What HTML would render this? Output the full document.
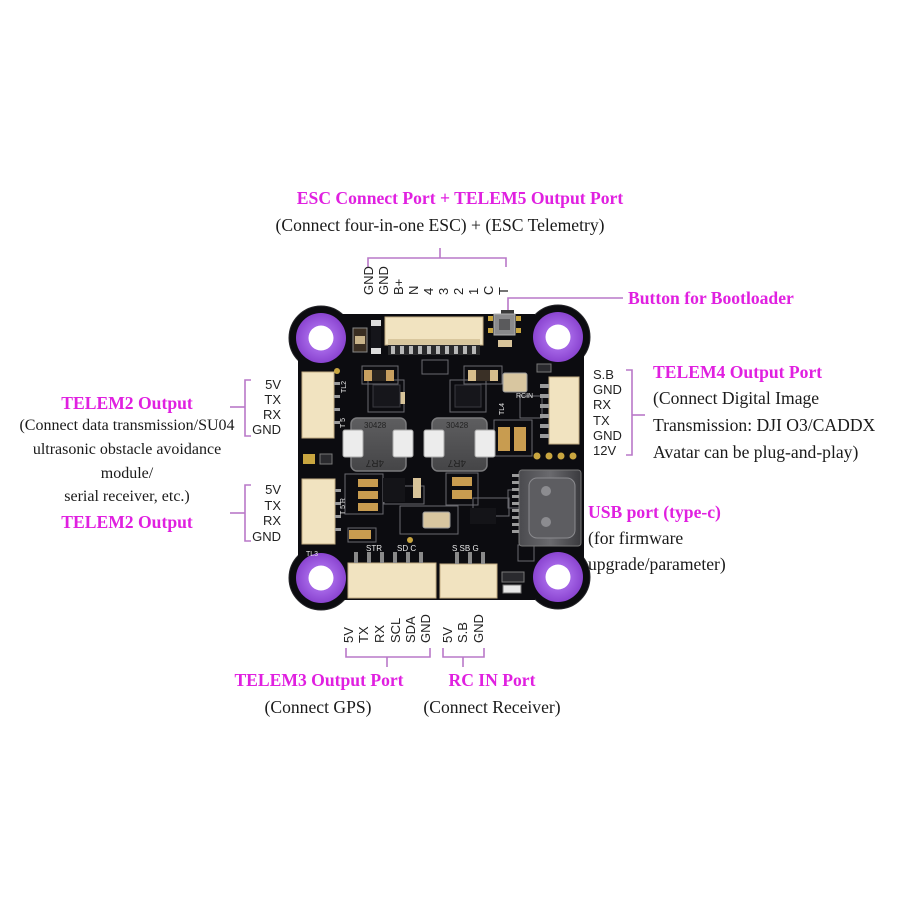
<!DOCTYPE html>
<html><head><meta charset="utf-8">
<style>
html,body{margin:0;padding:0;background:#fff;}
#w{position:relative;width:900px;height:900px;overflow:hidden;background:#fff;}
.t{position:absolute;white-space:nowrap;font-family:"Liberation Serif",serif;color:#1a1a1a;font-size:17.6px;line-height:20px;}
.m{color:#e020e0;font-weight:bold;}
.c{text-align:center;}
.p{position:absolute;white-space:pre;font-family:"Liberation Sans",sans-serif;font-size:13px;color:#222;}
svg{position:absolute;left:0;top:0;}
</style></head><body><div id="w">

<svg width="900" height="900" viewBox="0 0 900 900">
<defs>
<radialGradient id="pg" cx="50%" cy="50%" r="50%">
<stop offset="55%" stop-color="#a262e4"/><stop offset="100%" stop-color="#8a44d0"/>
</radialGradient>
<linearGradient id="ind" x1="0" y1="0" x2="0" y2="1">
<stop offset="0" stop-color="#5e5e60"/><stop offset="1" stop-color="#454547"/>
</linearGradient>
<linearGradient id="usb" x1="0" y1="0" x2="1" y2="0">
<stop offset="0" stop-color="#4a4a4e"/><stop offset="0.5" stop-color="#6a6a6e"/><stop offset="1" stop-color="#3a3a3e"/>
</linearGradient>
</defs>

<!-- connector lines -->
<g fill="none" stroke="#b978c8" stroke-width="1.6">
<path d="M368,267 V258 H506 V267"/><path d="M440,258 V248"/>
<path d="M508,312 V298 H623"/>
<path d="M251,380 H245 V436 H251"/><path d="M230,407 H245"/>
<path d="M251,485 H245 V541 H251"/><path d="M230,513 H245"/>
<path d="M626,370 H632 V455 H626"/><path d="M632,415 H645"/>
<path d="M346,648 V657 H430 V648"/><path d="M387,657 V667"/>
<path d="M443,648 V657 H484 V648"/><path d="M463,657 V667"/>
</g>

<!-- board -->
<rect x="298" y="314" width="286" height="286" rx="8" fill="#0c0c10"/>
<g fill="#0c0c10" stroke="#26262a" stroke-width="1">
<circle cx="321" cy="338" r="32"/><circle cx="558" cy="337" r="32"/>
<circle cx="321" cy="578" r="32"/><circle cx="558" cy="577" r="32"/>
</g>
<rect x="298" y="330" width="286" height="240" fill="#0c0c10"/>
<rect x="335" y="314" width="200" height="40" fill="#0c0c10"/>
<rect x="335" y="560" width="200" height="40" fill="#0c0c10"/>
<g fill="url(#pg)">
<circle cx="321" cy="338" r="25"/><circle cx="558" cy="337" r="25"/>
<circle cx="321" cy="578" r="25"/><circle cx="558" cy="577" r="25"/>
</g>
<g fill="#fff">
<circle cx="321" cy="338" r="12.5"/><circle cx="558" cy="337" r="12.5"/>
<circle cx="321" cy="578" r="12.5"/><circle cx="558" cy="577" r="12.5"/>
</g>

<!-- silkscreen outlines -->
<g fill="none" stroke="#6a6a70" stroke-width="1">
<rect x="362" y="366" width="36" height="18"/>
<rect x="464" y="366" width="38" height="18"/>
<rect x="368" y="380" width="36" height="32"/>
<rect x="450" y="380" width="36" height="32"/>
<rect x="345" y="474" width="38" height="40"/>
<rect x="446" y="473" width="32" height="32"/>
<rect x="494" y="420" width="38" height="36"/>
<rect x="400" y="506" width="58" height="28"/>
<rect x="384" y="486" width="40" height="18"/>
<rect x="520" y="396" width="22" height="22"/>
<rect x="473" y="498" width="36" height="18"/>
<rect x="422" y="360" width="26" height="14"/>
<rect x="508" y="490" width="18" height="18"/>
<rect x="348" y="528" width="28" height="14"/>
<rect x="518" y="545" width="16" height="16"/>
</g>

<!-- top ESC connector -->
<rect x="385" y="317" width="98" height="28" fill="#f1e3c0" stroke="#c4ae84"/>
<rect x="388" y="339" width="92" height="5" fill="#d9c79e"/>
<rect x="388" y="345" width="92" height="10" fill="#2a2a2c"/>
<g fill="#b8b8b8">
<rect x="391" y="346" width="4" height="8"/><rect x="400" y="346" width="4" height="8"/><rect x="409" y="346" width="4" height="8"/><rect x="418" y="346" width="4" height="8"/><rect x="427" y="346" width="4" height="8"/><rect x="436" y="346" width="4" height="8"/><rect x="445" y="346" width="4" height="8"/><rect x="454" y="346" width="4" height="8"/><rect x="463" y="346" width="4" height="8"/><rect x="472" y="346" width="4" height="8"/>
</g>
<!-- small parts top-left -->
<rect x="353" y="328" width="14" height="24" fill="#3a2e22" stroke="#888"/>
<rect x="355" y="336" width="10" height="8" fill="#c9b48a"/>
<rect x="371" y="320" width="10" height="34" fill="#15151a"/>
<rect x="371" y="320" width="10" height="6" fill="#ddd"/><rect x="371" y="348" width="10" height="6" fill="#ddd"/>
<circle cx="337" cy="371" r="3" fill="#c9a640"/>

<!-- button -->
<rect x="501" y="310" width="13" height="5" fill="#3a3a3a"/>
<rect x="494" y="314" width="21" height="21" fill="#8a8a8c" stroke="#b0b0b0"/>
<rect x="499" y="319" width="11" height="11" fill="#5a5a5c"/>
<rect x="488" y="316" width="5" height="5" fill="#c9a640"/><rect x="488" y="328" width="5" height="5" fill="#c9a640"/>
<rect x="516" y="316" width="5" height="5" fill="#c9a640"/><rect x="516" y="328" width="5" height="5" fill="#c9a640"/>
<rect x="498" y="340" width="14" height="7" fill="#d8c49a"/>

<!-- left connectors -->
<rect x="302" y="372" width="32" height="66" fill="#f1e3c0" stroke="#c4ae84"/>
<rect x="302" y="479" width="33" height="65" fill="#f1e3c0" stroke="#c4ae84"/>
<g fill="#9a9a9a">
<rect x="334" y="382" width="6" height="3"/><rect x="334" y="395" width="6" height="3"/><rect x="334" y="408" width="6" height="3"/><rect x="334" y="421" width="6" height="3"/>
<rect x="335" y="489" width="6" height="3"/><rect x="335" y="502" width="6" height="3"/><rect x="335" y="515" width="6" height="3"/><rect x="335" y="528" width="6" height="3"/>
</g>
<rect x="303" y="454" width="12" height="10" fill="#c9a640"/>
<rect x="320" y="454" width="12" height="10" fill="#2a2a2e" stroke="#777"/>

<!-- right connector -->
<rect x="549" y="377" width="30" height="67" fill="#f1e3c0" stroke="#c4ae84"/>
<g fill="#9a9a9a">
<rect x="540" y="384" width="9" height="4"/><rect x="540" y="394" width="9" height="4"/><rect x="540" y="404" width="9" height="4"/><rect x="540" y="414" width="9" height="4"/><rect x="540" y="424" width="9" height="4"/><rect x="540" y="434" width="9" height="4"/>
</g>
<rect x="537" y="364" width="14" height="8" fill="#2a2a2e" stroke="#777"/>
<g fill="#c9a640">
<circle cx="537" cy="456" r="3.5"/><circle cx="549" cy="456" r="3.5"/><circle cx="561" cy="456" r="3.5"/><circle cx="573" cy="456" r="3.5"/>
</g>

<!-- USB-C -->
<rect x="519" y="470" width="62" height="76" rx="3" fill="url(#usb)" stroke="#777"/>
<rect x="529" y="478" width="46" height="60" rx="8" fill="#5d5d61" stroke="#8a8a8e"/>
<circle cx="546" cy="491" r="5" fill="#8c8c90"/><circle cx="546" cy="522" r="5" fill="#8c8c90"/>
<g fill="#9a9a9a">
<rect x="512" y="474" width="7" height="3"/><rect x="512" y="481" width="7" height="3"/><rect x="512" y="488" width="7" height="3"/><rect x="512" y="495" width="7" height="3"/><rect x="512" y="502" width="7" height="3"/><rect x="512" y="509" width="7" height="3"/><rect x="512" y="516" width="7" height="3"/><rect x="512" y="523" width="7" height="3"/><rect x="512" y="530" width="7" height="3"/>
</g>

<!-- bottom connectors -->
<rect x="348" y="563" width="88" height="35" fill="#f1e3c0" stroke="#c4ae84"/>
<rect x="440" y="564" width="57" height="34" fill="#f1e3c0" stroke="#c4ae84"/>
<g fill="#8a8a8a">
<rect x="354" y="552" width="4" height="11"/><rect x="367" y="552" width="4" height="11"/><rect x="380" y="552" width="4" height="11"/><rect x="393" y="552" width="4" height="11"/><rect x="406" y="552" width="4" height="11"/><rect x="419" y="552" width="4" height="11"/>
<rect x="455" y="552" width="4" height="12"/><rect x="468" y="552" width="4" height="12"/><rect x="481" y="552" width="4" height="12"/>
</g>
<rect x="502" y="572" width="22" height="10" fill="#2a2a2e" stroke="#777"/>
<rect x="503" y="585" width="18" height="8" fill="#e8e8e8" stroke="#777"/>
<circle cx="410" cy="540" r="3" fill="#c9a640"/>

<!-- caps -->
<g>
<rect x="364" y="370" width="30" height="11" fill="#c8a060"/><rect x="372" y="370" width="14" height="11" fill="#2a2520"/>
<rect x="468" y="370" width="30" height="11" fill="#d6bd8c"/><rect x="476" y="370" width="14" height="11" fill="#3a3026"/>
<rect x="358" y="479" width="20" height="8" fill="#c89c50"/><rect x="358" y="491" width="20" height="8" fill="#c89c50"/><rect x="358" y="503" width="20" height="8" fill="#c89c50"/>
<rect x="452" y="477" width="20" height="9" fill="#c89c50"/><rect x="452" y="490" width="20" height="9" fill="#c89c50"/>
<rect x="413" y="478" width="8" height="20" fill="#d8c49a"/>
<rect x="498" y="427" width="12" height="24" fill="#c89c50"/><rect x="514" y="427" width="12" height="24" fill="#c89c50"/>
<rect x="349" y="530" width="22" height="9" fill="#c89c50"/>
<rect x="395" y="392" width="10" height="12" fill="#d8c49a"/>
</g>

<!-- chips -->
<rect x="373" y="385" width="27" height="22" fill="#16161b" stroke="#3a3a40"/>
<rect x="455" y="385" width="26" height="22" fill="#16161b" stroke="#3a3a40"/>
<rect x="383" y="478" width="22" height="24" fill="#141418"/>
<rect x="470" y="508" width="26" height="16" fill="#141418"/>

<!-- crystals -->
<rect x="503" y="373" width="24" height="19" rx="2" fill="#d8c6a0" stroke="#9a9a9a"/>
<rect x="423" y="512" width="27" height="16" rx="2" fill="#d8c6a0" stroke="#9a9a9a"/>

<!-- inductors -->
<rect x="351" y="418" width="55" height="53" rx="6" fill="url(#ind)" stroke="#7a7a7c" stroke-width="1.5"/>
<rect x="432" y="418" width="55" height="53" rx="6" fill="url(#ind)" stroke="#7a7a7c" stroke-width="1.5"/>
<g fill="#ececec" stroke="#aaa">
<rect x="343" y="430" width="20" height="27" rx="2"/><rect x="393" y="430" width="20" height="27" rx="2"/>
<rect x="424" y="430" width="20" height="27" rx="2"/><rect x="475" y="430" width="20" height="27" rx="2"/>
</g>
<g font-family="Liberation Sans,sans-serif" font-size="8" fill="#222">
<text x="364" y="428">30428</text><text x="446" y="428">30428</text>
<text x="370" y="468" font-size="10" transform="rotate(180 377 464)">4R7</text>
<text x="452" y="468" font-size="10" transform="rotate(180 459 464)">4R7</text>
</g>

<!-- silk text -->
<g font-family="Liberation Sans,sans-serif" font-size="8" fill="#e8e8e8">
<text x="366" y="551">STR</text><text x="397" y="551">SD C</text><text x="452" y="551">S SB G</text>
<text x="516" y="398" font-size="7">RCIN</text>
<text x="306" y="556" font-size="7">TL3</text>
<text transform="translate(346,393) rotate(-90)" font-size="7">TL2</text>
<text transform="translate(345,428) rotate(-90)" font-size="7">T 5</text>
<text transform="translate(345,515) rotate(-90)" font-size="7">T 5 R</text>
<text transform="translate(504,415) rotate(-90)" font-size="7">TL4</text>
</g>

<!-- rotated pin labels -->
<g font-family="Liberation Sans,sans-serif" font-size="13" fill="#222">
<text transform="translate(373,295) rotate(-90)">GND</text>
<text transform="translate(388,295) rotate(-90)">GND</text>
<text transform="translate(403,295) rotate(-90)">B+</text>
<text transform="translate(418,295) rotate(-90)">N</text>
<text transform="translate(433,295) rotate(-90)">4</text>
<text transform="translate(448,295) rotate(-90)">3</text>
<text transform="translate(463,295) rotate(-90)">2</text>
<text transform="translate(478,295) rotate(-90)">1</text>
<text transform="translate(493,295) rotate(-90)">C</text>
<text transform="translate(508,295) rotate(-90)">T</text>

<text transform="translate(353,643) rotate(-90)">5V</text>
<text transform="translate(368,643) rotate(-90)">TX</text>
<text transform="translate(384,643) rotate(-90)">RX</text>
<text transform="translate(400,643) rotate(-90)">SCL</text>
<text transform="translate(415,643) rotate(-90)">SDA</text>
<text transform="translate(430,643) rotate(-90)">GND</text>

<text transform="translate(452,643) rotate(-90)">5V</text>
<text transform="translate(467,643) rotate(-90)">S.B</text>
<text transform="translate(483,643) rotate(-90)">GND</text>
</g>
</svg>

<!-- pin label stacks -->
<div class="p" style="left:231px;width:50px;text-align:right;top:377px;line-height:15px;">5V
TX
RX
GND</div>
<div class="p" style="left:231px;width:50px;text-align:right;top:482px;line-height:15.5px;">5V
TX
RX
GND</div>
<div class="p" style="left:593px;top:367px;line-height:15.2px;">S.B
GND
RX
TX
GND
12V</div>

<!-- top -->
<div class="t m c" style="left:260px;width:400px;top:188px;">ESC Connect Port + TELEM5 Output Port</div>
<div class="t c" style="left:240px;width:400px;top:215px;">(Connect four-in-one ESC) + (ESC Telemetry)</div>
<div class="t m" style="left:628px;top:288px;">Button for Bootloader</div>

<!-- right -->
<div class="t m" style="left:653px;top:362px;">TELEM4 Output Port</div>
<div class="t" style="left:653px;top:388px;">(Connect Digital Image</div>
<div class="t" style="left:653px;top:415px;">Transmission: DJI O3/CADDX</div>
<div class="t" style="left:653px;top:442px;">Avatar can be plug-and-play)</div>

<div class="t m" style="left:588px;top:502px;">USB port (type-c)</div>
<div class="t" style="left:588px;top:528px;">(for firmware</div>
<div class="t" style="left:588px;top:554px;">upgrade/parameter)</div>

<!-- left -->
<div class="t m c" style="left:0;width:254px;top:393px;">TELEM2 Output</div>
<div class="t c" style="left:0;width:254px;top:416px;font-size:16px;">(Connect data transmission/SU04</div>
<div class="t c" style="left:0;width:254px;top:440px;font-size:16px;">ultrasonic obstacle avoidance</div>
<div class="t c" style="left:0;width:254px;top:464px;font-size:16px;">module/</div>
<div class="t c" style="left:0;width:254px;top:487px;font-size:16px;">serial receiver, etc.)</div>
<div class="t m c" style="left:0;width:254px;top:512px;">TELEM2 Output</div>

<!-- bottom -->
<div class="t m c" style="left:219px;width:200px;top:670px;">TELEM3 Output Port</div>
<div class="t c" style="left:218px;width:200px;top:697px;">(Connect GPS)</div>
<div class="t m c" style="left:392px;width:200px;top:670px;">RC IN Port</div>
<div class="t c" style="left:392px;width:200px;top:697px;">(Connect Receiver)</div>

</div></body></html>
